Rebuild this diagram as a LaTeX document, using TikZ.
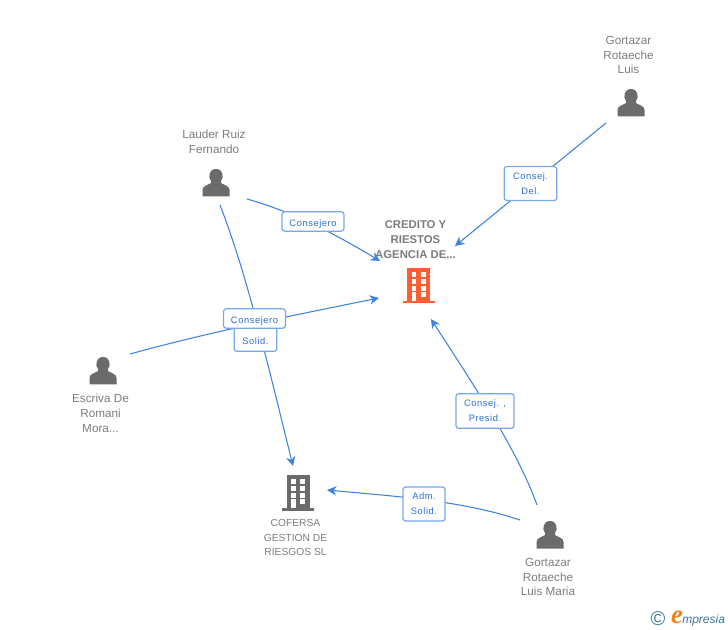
\documentclass[tikz,border=0pt]{standalone}
\usepackage{fontspec}
\setmainfont{Liberation Sans}
\newfontfamily\logofont{Liberation Serif}
\usetikzlibrary{arrows.meta,calc}
\definecolor{LinkClr}{RGB}{62,130,226}
\definecolor{BoxClr}{RGB}{118,168,236}
\definecolor{TagClr}{RGB}{40,110,215}
\definecolor{IconClr}{RGB}{107,107,107}
\definecolor{TextClr}{RGB}{125,125,125}
\definecolor{MainClr}{RGB}{255,94,48}
\definecolor{LogoClr}{RGB}{60,120,150}
\definecolor{LogoE}{RGB}{240,130,30}
\tikzset{
  link/.style={draw=LinkClr,line width=0.8pt,-{Stealth[length=7pt,width=7pt]}},
  tag/.style={draw=BoxClr,line width=0.9pt,rounded corners=2pt,fill=white,text=TagClr,
    font=\fontsize{7}{11.2}\selectfont\addfontfeature{LetterSpace=6},align=center,inner sep=0pt},
  holder/.style={text=TextClr,font=\fontsize{8.8}{11.2}\selectfont,align=center,inner sep=0pt},
  pics/person/.style={code={
    \fill[IconClr] (-13.5,13.5) -- (-13.5,7) .. controls (-13.5,3) and (-9,2.5) .. (-5,0)
      -- (-5,-2) .. controls (-8,-5) and (-7.5,-14) .. (0,-14)
      .. controls (7.5,-14) and (8,-5) .. (5,-2) -- (5,0)
      .. controls (9,2.5) and (13.5,3) .. (13.5,7) -- (13.5,13.5) -- cycle;
  }},
  pics/tower/.style={code={
    \fill[#1] (-16,15) rectangle (16,17.5);
    \fill[#1] (-11.5,-17.5) rectangle (11.5,15);
    \foreach \wy in {-13.5,-6.5,0} {
      \fill[white] (-7,\wy) rectangle (-2.3,{\wy+4.7});
      \fill[white] (2.3,\wy) rectangle (7,{\wy+4.7});
    }
    \fill[white] (-7,6.5) rectangle (-2.3,15);
    \fill[white] (2.3,6.5) rectangle (7,11.2);
  }}
}

\begin{document}
\begin{tikzpicture}[x=0.75pt,y=-0.75pt]
\useasboundingbox (0,0) rectangle (728,630);

% people and companies
\pic at (631,103) {person};
\pic at (216,183) {person};
\pic at (103,371) {person};
\pic at (550,535) {person};
\pic at (418.5,286) {tower=MainClr};
\pic at (298,493) {tower=IconClr};

\node[holder] (luis) at (628.5,55) {Gortazar\\Rotaeche\\Luis};
\node[holder] (lauder) at (214,142) {Lauder Ruiz\\Fernando};
\node[holder] (escriva) at (100.5,413) {Escriva De\\Romani\\Mora...};
\node[holder] (maria) at (548,577) {Gortazar\\Rotaeche\\Luis Maria};
\node[holder,font=\fontsize{8.5}{11.2}\selectfont\bfseries] (credito) at (415.5,239.5) {CREDITO Y\\RIESTOS\\AGENCIA DE...};
\node[holder,font=\fontsize{7.7}{11.2}\selectfont] (cofersa) at (295.5,537.5) {COFERSA\\GESTION DE\\RIESGOS SL};

% free ends of the connectors
\coordinate (luisA) at (606,123);
\coordinate (luisB) at (455,246);
\coordinate (lauderA) at (247,199);
\coordinate (lauderB) at (380,261);
\coordinate (lauderC) at (220,205);
\coordinate (lauderD) at (293,466);
\coordinate (escrivaA) at (130,354);
\coordinate (escrivaB) at (379,298);
\coordinate (mariaA) at (537,505);
\coordinate (mariaB) at (431,319);
\coordinate (mariaC) at (520,520);
\coordinate (mariaD) at (327,490);

\draw[link] (luisA) -- (luisB);
\draw[link] (lauderA) .. controls (285,210) and (320,225) .. (lauderB);
\draw[link] (lauderC) .. controls (245,270) and (262,340) .. (lauderD);
\draw[link] (escrivaA) .. controls (210,332) and (290,316) .. (escrivaB);
\draw[link] (mariaA) .. controls (517,450) and (480,395) .. (mariaB);
\draw[link] (mariaC) .. controls (460,500) and (390,496) .. (mariaD);

% labels on the connectors
\node[tag,minimum width=32pt,minimum height=26pt] (adm1) at (255.5,334) {Adm.\\Solid.};
\node[tag,minimum width=46.5pt,minimum height=14.5pt,text height=7pt,text depth=0pt] (cons2) at (254.5,318.5) {Consejero};
\node[tag,minimum width=46.5pt,minimum height=14.5pt,text height=7pt,text depth=0pt] (cons1) at (313,221.5) {Consejero};
\node[tag,minimum width=39.5pt,minimum height=25.5pt] (del) at (530.5,183.5) {Consej.\\Del.};
\node[tag,minimum width=43.5pt,minimum height=26pt] (pres) at (485,411) {Consej. ,\\Presid.};
\node[tag,minimum width=31.5pt,minimum height=25.5pt] (adm2) at (424,504) {Adm.\\Solid.};

% watermark
\node[text=LogoClr,font=\fontsize{15}{15}\selectfont,inner sep=0pt] (copy) at (658,619) {©};
\node[text=LogoE,font=\logofont\itshape\bfseries\fontsize{20}{20}\selectfont,inner sep=0pt] (loge) at (677,617) {e};
\node[text=LogoClr,font=\fontsize{9}{9}\selectfont\itshape,inner sep=0pt,anchor=west] (logo) at (682,620) {mpresia};
\end{tikzpicture}
\end{document}
